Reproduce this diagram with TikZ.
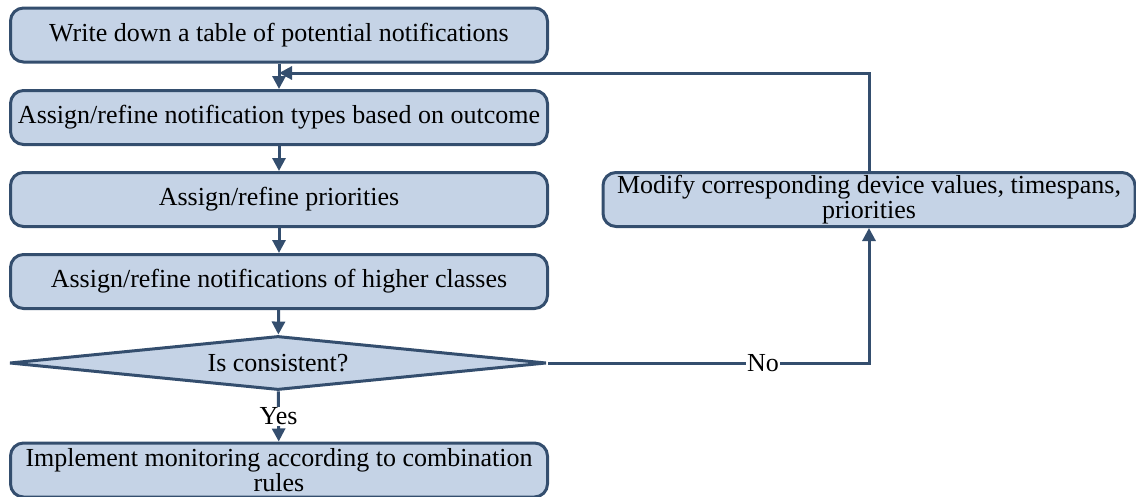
\documentclass[tikz,border=0pt]{standalone}
\usepackage{fontspec}
\setmainfont{Liberation Serif}
\usetikzlibrary{shapes.geometric,arrows.meta}
\definecolor{boxfill}{RGB}{197,211,230}
\definecolor{boxline}{RGB}{52,78,110}
\begin{document}
\begin{tikzpicture}[x=1pt,y=-1pt,
  txt/.style={font=\fontsize{26}{25}\selectfont},
  stepbox/.style={txt,draw=boxline,fill=boxfill,line width=3pt,rounded corners=13pt,
    minimum width=537pt,minimum height=54pt,inner sep=0pt,align=center},
  decision/.style={txt,draw=boxline,fill=boxfill,line width=3pt,diamond,aspect=10,
    minimum width=537pt,minimum height=54pt,inner sep=0pt},
  flow/.style={draw=boxline,line width=3pt,-{Triangle[width=13pt,length=13pt]}},
  lbl/.style={txt,fill=white,inner sep=1pt}]
\useasboundingbox (0,0) rectangle (1136,496);
% main column
\node[stepbox] (write) at (279,35) {Write down a table of potential notifications};
\node[stepbox] (types) at (279,117.5) {Assign/refine notification types based on outcome};
\node[stepbox] (prio) at (279,199.5) {Assign/refine priorities};
\node[stepbox] (higher) at (279,281.5) {Assign/refine notifications of higher classes};
\node[decision] (check) at (278,363) {Is consistent?};
\node[stepbox] (impl) at (279,470) {Implement monitoring according to combination\\rules};
% correction step on the right
\node[stepbox,minimum width=532pt] (modify) at (869,199.5) {Modify corresponding device values, timespans,\\priorities};
\coordinate (join) at (279,73);
\draw[flow] (write) -- (types);
\draw[flow] (types) -- (prio);
\draw[flow] (prio) -- (higher);
\draw[flow] (higher) -- (check);
\draw[flow] (check) -- node[lbl] {Yes} (impl);
\draw[flow] (check.east) -- node[lbl,pos=0.67] {No} (check.east -| modify) -- (modify);
\draw[flow] (modify) |- (join);
\end{tikzpicture}
\end{document}
